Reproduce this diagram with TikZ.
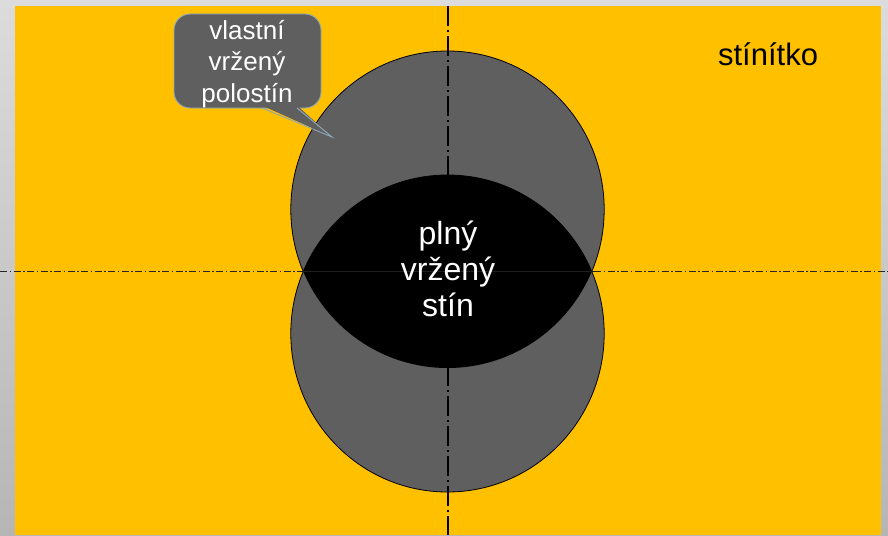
\documentclass[tikz,border=0pt]{standalone}
\usepackage{fontspec}
\setmainfont{Liberation Sans}
\definecolor{screenorange}{HTML}{FFC000}
\definecolor{penumbra}{HTML}{5F5F5F}
\definecolor{bubbleedge}{HTML}{8FA9B8}
\definecolor{bgtop}{HTML}{DCDCDC}
\definecolor{bgbottom}{HTML}{B6B6B6}
\tikzset{
  shadowdisc/.style={fill=penumbra, draw=black, line width=0.8pt},
  vaxis/.style={line width=1.6pt, black, dash pattern=on 20pt off 4pt on 2pt off 4pt},
  haxis/.style={line width=1pt, black!85, dash pattern=on 7pt off 2.5pt on 1.5pt off 2.5pt},
  bubblebox/.style={fill=penumbra, draw=bubbleedge, line width=0.9pt, rounded corners=16pt,
    minimum width=147pt, minimum height=94pt, inner sep=0pt},
  whitetext/.style={text=white, align=center},
}
\begin{document}
\begin{tikzpicture}[x=1pt,y=-1pt]
\useasboundingbox (0,0) rectangle (888,535);
\shade[top color=bgtop, bottom color=bgbottom] (0,0) rectangle (888,535);
\fill[screenorange] (15,6) rectangle (881,535);
% two shadow discs
\coordinate (cup) at (447.5,209.5);
\coordinate (cdown) at (447.5,333.5);
\filldraw[shadowdisc] (cup) ellipse [x radius=156.7, y radius=158.5];
\filldraw[shadowdisc] (cdown) ellipse [x radius=156.7, y radius=158.5];
% axes
\coordinate (vtop) at (448,6);
\coordinate (vbot) at (448,535);
\coordinate (hl) at (0,271);
\coordinate (hr) at (888,271);
\draw[vaxis] (vtop) -- (vbot);
\draw[haxis] (hl) -- (hr);
% full shadow (lens)
\begin{scope}
  \clip (cup) ellipse [x radius=156.7, y radius=158.5];
  \fill[black] (cdown) ellipse [x radius=156.7, y radius=158.5];
\end{scope}
\draw[line width=0.6pt, black!88] (300,271) -- (595,271);
% texts
\node[whitetext, font=\fontsize{32}{36}\selectfont] (lens) at (448,269) {plný\\vržený\\stín};
\node[font=\fontsize{31}{36}\selectfont, anchor=base] (screen) at (768,66) {stínítko};
% callout
\node[bubblebox] (bubble) at (247.5,61) {};
\coordinate (tip) at (332,137);
\fill[penumbra] (262,105.5) -- (tip) -- (297,105.5) -- cycle;
\draw[bubbleedge, line width=0.9pt, line join=miter] (262,108) -- (tip) -- (297,108);
\node[whitetext, font=\fontsize{26}{31.5}\selectfont] (bubbletext) at (247,64) {vlastní\\vržený\\polostín};
\end{tikzpicture}
\end{document}
